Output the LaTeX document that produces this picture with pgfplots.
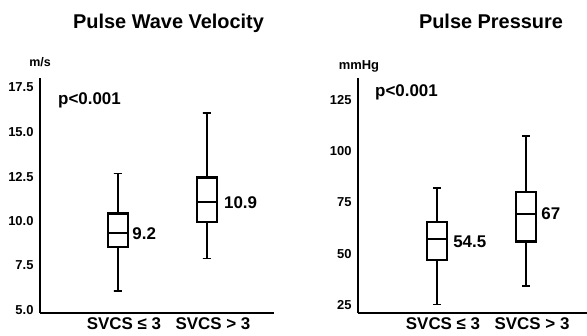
\documentclass[border=0pt]{standalone}
\usepackage{fontspec}
\setmainfont{Liberation Sans}
\usepackage{pgfplots}
\pgfplotsset{compat=1.18}
\tikzset{ann/.style={font=\bfseries\fontsize{17}{19}\selectfont, inner sep=0pt}}
\begin{document}
\begin{tikzpicture}[x=1bp,y=1bp]
\useasboundingbox (0,0) rectangle (587,335);
\pgfplotsset{
  myax/.style={
    anchor=south west, scale only axis, height=235bp,
    axis x line=bottom, axis y line=left,
    axis line style={-, line width=2.5bp},
    major tick length=0pt,
    xtick={1,2},
    xticklabels={SVCS ≤ 3, SVCS > 3},
    xticklabel style={font=\bfseries\fontsize{17}{19}\selectfont, xshift=6bp, yshift=-1bp},
    yticklabel style={font=\bfseries\fontsize{13}{15}\selectfont, xshift=-3bp},
    clip=false,
  },
  boxs/.style={black, line width=2.5bp, line join=miter},
  meds/.style={black, line width=1.8bp},
  whis/.style={black, line width=1.5bp},
}
% Left panel
\begin{axis}[myax, at={(40bp,22bp)}, width=234bp,
  xmin=0.124, xmax=2.753, ymin=4.83, ymax=18.04,
  ytick={5,7.5,10,12.5,15,17.5},
  yticklabels={5.0,7.5,10.0,12.5,15.0,17.5}]
% SVCS <= 3: lw 6.07, lq 8.55, med 9.34, uq 10.43, uw 12.67
\addplot[boxs] coordinates {(0.8875,8.55) (1.1125,8.55) (1.1125,10.43) (0.8875,10.43)} -- cycle;
\addplot[meds] coordinates {(0.8875,9.34) (1.1125,9.34)};
\addplot[whis] coordinates {(1,10.43) (1,12.67) (0.955,12.67) (1.045,12.67)};
\addplot[whis] coordinates {(1,8.55) (1,6.07) (0.955,6.07) (1.045,6.07)};
% SVCS > 3: lw 7.88, lq 9.94, med 11.06, uq 12.45, uw 16.06
\addplot[boxs] coordinates {(1.8875,9.94) (2.1125,9.94) (2.1125,12.45) (1.8875,12.45)} -- cycle;
\addplot[meds] coordinates {(1.8875,11.06) (2.1125,11.06)};
\addplot[whis] coordinates {(2,12.45) (2,16.06) (1.955,16.06) (2.045,16.06)};
\addplot[whis] coordinates {(2,9.94) (2,7.88) (1.955,7.88) (2.045,7.88)};
\node[ann, anchor=west] at (axis cs:1.16,9.29) {9.2};
\node[ann, anchor=west] at (axis cs:2.19,11.01) {10.9};
\node[ann, anchor=base west] at (axis cs:0.326,16.57) {p<0.001};
\node[font=\bfseries\fontsize{12.5}{14}\selectfont, anchor=base, inner sep=0pt] at ([yshift=11bp]rel axis cs:0,1) {m/s};
\end{axis}
% Right panel
\begin{axis}[myax, at={(358bp,22bp)}, width=229bp,
  xmin=0.112, xmax=2.685, ymin=21.0, ymax=135.7,
  ytick={25,50,75,100,125},
  yticklabels={25,50,75,100,125}]
% SVCS <= 3: lw 25.2, lq 46.9, med 57.0, uq 65.3, uw 81.9
\addplot[boxs] coordinates {(0.8875,46.9) (1.1125,46.9) (1.1125,65.3) (0.8875,65.3)} -- cycle;
\addplot[meds] coordinates {(0.8875,57.0) (1.1125,57.0)};
\addplot[whis] coordinates {(1,65.3) (1,81.9) (0.955,81.9) (1.045,81.9)};
\addplot[whis] coordinates {(1,46.9) (1,25.2) (0.955,25.2) (1.045,25.2)};
% SVCS > 3: lw 34.2, lq 55.8, med 69.3, uq 80.1, uw 107.4
\addplot[boxs] coordinates {(1.8875,55.8) (2.1125,55.8) (2.1125,80.1) (1.8875,80.1)} -- cycle;
\addplot[meds] coordinates {(1.8875,69.3) (2.1125,69.3)};
\addplot[whis] coordinates {(2,80.1) (2,107.4) (1.955,107.4) (2.045,107.4)};
\addplot[whis] coordinates {(2,55.8) (2,34.2) (1.955,34.2) (2.045,34.2)};
\node[ann, anchor=west] at (axis cs:1.18,55.66) {54.5};
\node[ann, anchor=west] at (axis cs:2.17,69.3) {67};
\node[ann, anchor=base west] at (axis cs:0.303,126.5) {p<0.001};
\node[font=\bfseries\fontsize{13}{15}\selectfont, anchor=base, inner sep=0pt] at ([xshift=1bp,yshift=8bp]rel axis cs:0,1) {mmHg};
\end{axis}
\node[font=\bfseries\fontsize{20}{22}\selectfont, anchor=base] at (168.5,307) {Pulse Wave Velocity};
\node[font=\bfseries\fontsize{20}{22}\selectfont, anchor=base] at (491,307) {Pulse Pressure};
\end{tikzpicture}
\end{document}
